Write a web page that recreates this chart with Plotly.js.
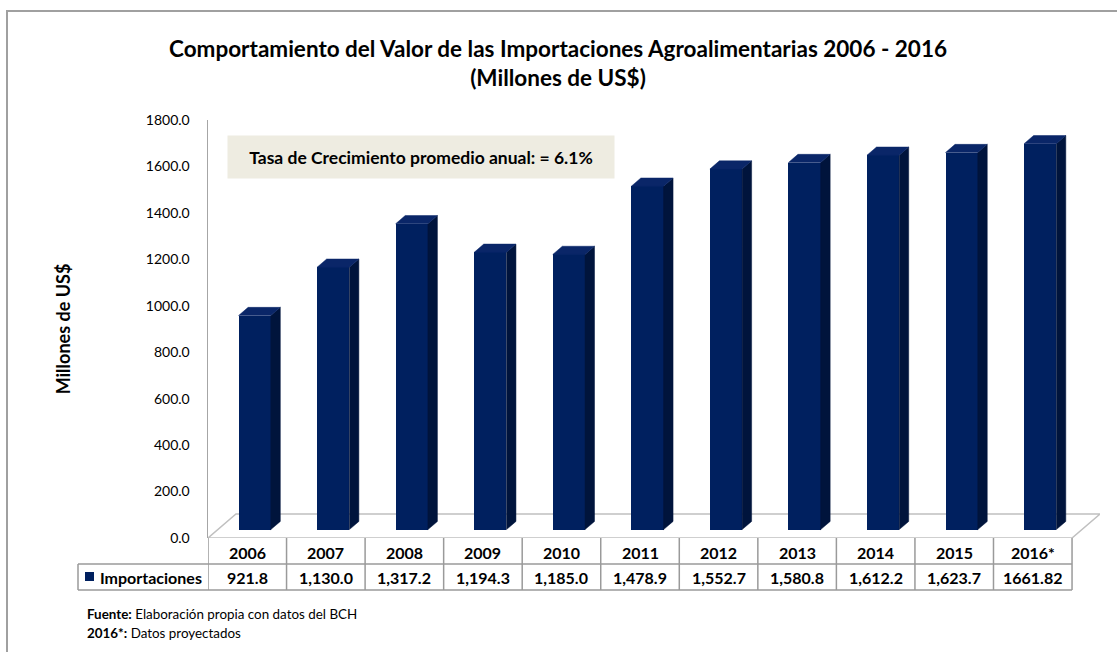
<!DOCTYPE html>
<html>
<head>
<meta charset="utf-8">
<script src="https://cdn.plot.ly/plotly-3.0.1.min.js"></script>
<style>html,body{margin:0;padding:0;background:#fff;}#chart{width:1117px;height:652px;}</style>
</head>
<body>
<div id="chart"></div>
<script>
// ---- data ----
const years = ["2006","2007","2008","2009","2010","2011","2012","2013","2014","2015","2016*"];
const importaciones = [921.8, 1130.0, 1317.2, 1194.3, 1185.0, 1478.9, 1552.7, 1580.8, 1612.2, 1623.7, 1661.82];
const valueLabels = ["921.8","1,130.0","1,317.2","1,194.3","1,185.0","1,478.9","1,552.7","1,580.8","1,612.2","1,623.7","1661.82"];
const seriesName = "Importaciones";
const chartTitle = "Comportamiento del Valor de las Importaciones Agroalimentarias 2006 - 2016<br>(Millones de US$)";
const yTitle = "Millones de US$";
const noteText = "Tasa de Crecimiento promedio anual: = 6.1%";
const sourceText = "<b>Fuente:</b> Elaboración propia con datos del BCH";
const projText = "<b>2016*:</b> Datos proyectados";

// ---- geometry / style ----
const W = 1117, H = 652;
const L = 208, R = 1100, T = 120, B = 538;
const depthX = 0.356, depthY = 103.4;       // floor depth in axis units
const fFront = 0.35, fBack = 0.69;          // bar depth fractions
const barW = 0.41;
const frontC = "#00205F", sideC = "#00143C", topC = "#0A2668";
const FONT = "Lato, 'Open Sans', sans-serif";

const idx = years.map((_, i) => i);
const base0 = fFront * depthY;
const offX = -barW / 2 + fFront * depthX - 0.03;
const ddx = (fBack - fFront) * depthX, ddy = (fBack - fFront) * depthY;

// side & top faces
const sx = [], sy = [], tx = [], ty = [];
importaciones.forEach((v, i) => {
  const xl = i + offX, xr = xl + barW, b = base0, t = base0 + v;
  sx.push(xr, xr + ddx, xr + ddx, xr, xr, null);
  sy.push(b, b + ddy, t + ddy, t, b, null);
  tx.push(xl, xr, xr + ddx, xl + ddx, xl, null);
  ty.push(t, t, t + ddy, t + ddy, t, null);
});

const px2x = p => (p - L) / (R - L);
const py2y = p => (B - p) / (B - T);

const traces = [
  {type: "bar", x: idx, y: importaciones, base: importaciones.map(() => base0),
   offset: offX, width: barW, name: seriesName,
   marker: {color: frontC, line: {width: 0}}, hoverinfo: "y"},
  {type: "scatter", x: sx, y: sy, mode: "lines", fill: "toself", fillcolor: sideC,
   line: {width: 0.5, color: sideC}, hoverinfo: "skip", showlegend: false},
  {type: "scatter", x: tx, y: ty, mode: "lines", fill: "toself", fillcolor: topC,
   line: {width: 0.5, color: topC}, hoverinfo: "skip", showlegend: false}
];

const gridC = "#A6A6A6";
const shapes = [];
// outer frame (top + left)
shapes.push({type: "path", xref: "paper", yref: "paper",
  path: `M ${px2x(7)},${py2y(H + 5)} L ${px2x(7)},${py2y(11)} L ${px2x(W + 5)},${py2y(11)}`,
  line: {color: "#A0A0A0", width: 2}});
// floor
shapes.push({type: "path", xref: "x", yref: "y", layer: "below",
  path: `M -0.5,0 L 10.5,0 L ${10.5 + depthX},${depthY} L ${-0.5 + depthX},${depthY} Z`,
  line: {color: "#C0C0C0", width: 1.5}});
// table
const rowTop = 538, rowMid = 564, rowBot = 590;
const tblC = "#9A9A9A";
for (let i = 0; i <= years.length; i++) {
  shapes.push({type: "line", xref: "x", yref: "paper", layer: "below", x0: i - 0.5, x1: i - 0.5,
    y0: py2y(rowTop), y1: py2y(rowBot), line: {color: tblC, width: 1.5}});
}
shapes.push({type: "line", xref: "paper", yref: "paper", layer: "below", x0: px2x(78), x1: px2x(1072),
  y0: py2y(rowMid), y1: py2y(rowMid), line: {color: tblC, width: 1.5}});
shapes.push({type: "line", xref: "paper", yref: "paper", layer: "below", x0: px2x(78), x1: px2x(1072),
  y0: py2y(rowBot), y1: py2y(rowBot), line: {color: tblC, width: 1.5}});
shapes.push({type: "line", xref: "paper", yref: "paper", layer: "below", x0: px2x(78), x1: px2x(78),
  y0: py2y(rowMid), y1: py2y(rowBot), line: {color: tblC, width: 1.5}});
// legend key
shapes.push({type: "rect", xref: "paper", yref: "paper", x0: px2x(85), x1: px2x(94),
  y0: py2y(581), y1: py2y(572), fillcolor: frontC, line: {width: 0}});

const tblFont = {family: FONT, size: 16, color: "#000"};
const annotations = [];
years.forEach((yr, i) => {
  annotations.push({xref: "x", yref: "paper", x: i, y: py2y((rowTop + rowMid) / 2 + 1), text: "<b>" + yr + "</b>",
    showarrow: false, font: tblFont, xanchor: "center", yanchor: "middle"});
  annotations.push({xref: "x", yref: "paper", x: i, y: py2y((rowMid + rowBot) / 2), text: "<b>" + valueLabels[i] + "</b>",
    showarrow: false, font: tblFont, xanchor: "center", yanchor: "middle"});
});
annotations.push({xref: "paper", yref: "paper", x: px2x(98), y: py2y((rowMid + rowBot) / 2), xanchor: "left",
  text: "<b>" + seriesName + "</b>", showarrow: false, font: tblFont, yanchor: "middle"});
annotations.push({xref: "paper", yref: "paper", x: px2x(421), y: py2y(157), text: "<b>" + noteText + "</b>",
  xanchor: "center", yanchor: "middle",
  showarrow: false, bgcolor: "#EEECE1", width: 386, height: 42, borderpad: 0, align: "center",
  font: {family: FONT, size: 17.5, color: "#000"}});
annotations.push({xref: "paper", yref: "paper", x: px2x(85), y: py2y(614), xanchor: "left", yanchor: "middle",
  text: sourceText, showarrow: false, font: {family: FONT, size: 13.4, color: "#000"}});
annotations.push({xref: "paper", yref: "paper", x: px2x(85), y: py2y(633), xanchor: "left", yanchor: "middle",
  text: projText, showarrow: false, font: {family: FONT, size: 13.4, color: "#000"}});

const layout = {
  width: W, height: H,
  margin: {l: L, r: W - R, t: T, b: H - B, pad: 0},
  paper_bgcolor: "#fff", plot_bgcolor: "rgba(0,0,0,0)",
  showlegend: false,
  title: {text: "<b>" + chartTitle + "</b>", x: 558 / W, xref: "container", xanchor: "center",
    y: 1 - 57 / H, yref: "container", yanchor: "middle",
    font: {family: FONT, size: 22.5, color: "#000"}},
  xaxis: {range: [-0.5, 10.5 + depthX], showgrid: false, zeroline: false, showline: false,
    showticklabels: false, ticks: "", fixedrange: true},
  yaxis: {range: [0, 1800], dtick: 200, tickformat: ".1f", showgrid: false, zeroline: false,
    showline: true, linecolor: gridC, linewidth: 1.5, ticks: "", ticklabelstandoff: 14,
    tickfont: {family: FONT, size: 14, color: "#000"},
    title: {text: "<b>" + yTitle + "</b>", font: {family: FONT, size: 18, color: "#000"}, standoff: 70},
    fixedrange: true},
  shapes: shapes,
  annotations: annotations,
  bargap: 0
};

Plotly.newPlot("chart", traces, layout, {displayModeBar: false, staticPlot: true});
</script>
</body>
</html>
